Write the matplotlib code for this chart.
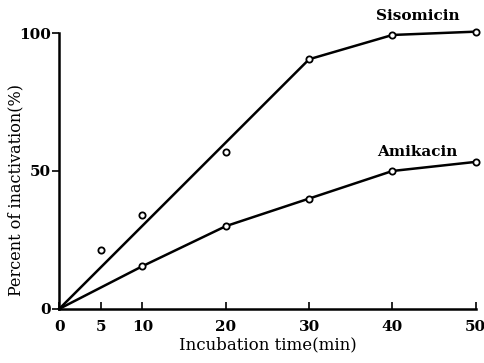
import matplotlib.pyplot as plt

# data
siso_t = [5, 10, 20, 30, 40, 50]
siso_pct = [21.5, 34, 57, 90.5, 99.3, 100.5]
siso_line_t = [0, 30, 40, 50]
siso_line_pct = [0, 90.5, 99.3, 100.5]

amik_t = [0, 10, 20, 30, 40, 50]
amik_pct = [0, 15.5, 30, 40, 50, 53.3]

xticks = [0, 5, 10, 20, 30, 40, 50]
yticks = [0, 50, 100]

plt.rcParams['font.family'] = ['DejaVu Serif']

fig = plt.figure(figsize=(4.85, 3.63), dpi=100)
ax = fig.add_axes([0.122, 0.149, 0.859, 0.760])

ax.plot(siso_line_t, siso_line_pct, color='black', lw=1.8, zorder=2, clip_on=False)
ax.plot(siso_t, siso_pct, 'o', ms=4.5, mfc='white', mec='black', mew=1.3,
        zorder=3, clip_on=False)
ax.plot(amik_t, amik_pct, color='black', lw=1.8, zorder=2, clip_on=False)
ax.plot(amik_t[1:], amik_pct[1:], 'o', ms=4.5, mfc='white', mec='black', mew=1.3,
        zorder=3, clip_on=False)

ax.text(43.0, 103.5, 'Sisomicin', ha='center', va='bottom',
        fontsize=11, fontweight='bold', clip_on=False)
ax.text(43.0, 54.5, 'Amikacin', ha='center', va='bottom',
        fontsize=11, fontweight='bold')

ax.set_xlim(0, 50)
ax.set_ylim(0, 100)
ax.set_xticks(xticks)
ax.set_yticks(yticks)
ax.tick_params(axis='x', direction='in', length=5, width=1.2, labelsize=11, pad=8)
ax.tick_params(axis='y', direction='out', length=5, width=1.2, labelsize=11, pad=1)
for lab in ax.get_xticklabels() + ax.get_yticklabels():
    lab.set_fontweight('bold')

ax.spines['top'].set_visible(False)
ax.spines['right'].set_visible(False)
ax.spines['left'].set_linewidth(1.8)
ax.spines['bottom'].set_linewidth(1.8)

ax.set_xlabel('Incubation time(min)', fontsize=12, labelpad=2)
ax.set_ylabel('Percent of inactivation(%)', fontsize=11.5)
ax.yaxis.set_label_coords(-0.083, 0.43)

fig.savefig('out.png', dpi=100)
